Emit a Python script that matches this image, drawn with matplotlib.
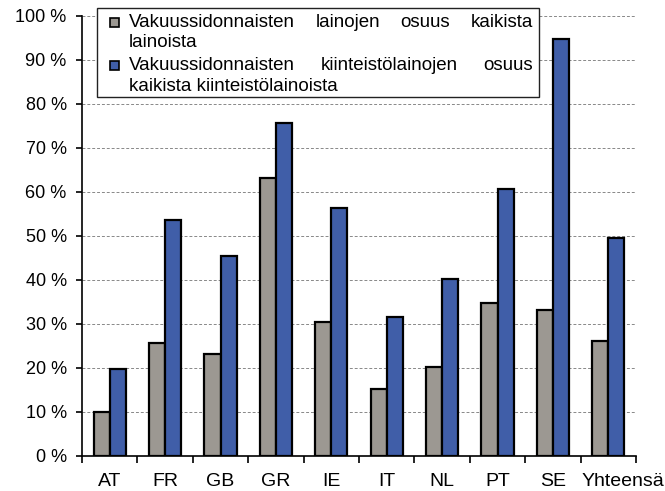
import matplotlib
matplotlib.use("Agg")
import matplotlib.pyplot as plt
import matplotlib.transforms as mtransforms
import numpy as np
from matplotlib.patches import Rectangle

categories = ["AT", "FR", "GB", "GR", "IE", "IT", "NL", "PT", "SE", "Yhteensä"]
loans_share = [10.0, 25.7, 23.2, 63.1, 30.4, 15.2, 20.1, 34.7, 33.2, 26.1]
real_estate_share = [19.8, 53.5, 45.4, 75.6, 56.3, 31.5, 40.2, 60.6, 94.8, 49.5]
yticks = [0, 10, 20, 30, 40, 50, 60, 70, 80, 90, 100]
ytick_labels = [f"{v} %" for v in yticks]
legend_lines = [
    ["Vakuussidonnaisten lainojen osuus kaikista", "lainoista"],
    ["Vakuussidonnaisten kiinteistölainojen osuus", "kaikista kiinteistölainoista"],
]

plt.rcParams['font.family'] = ['Liberation Sans', 'DejaVu Sans']
W, H = 665, 491
fig = plt.figure(figsize=(W / 100, H / 100), dpi=100)
ax = fig.add_axes([82 / W, 1 - 456 / H, (636 - 82) / W, (456 - 15.7) / H])

gray = "#9c9892"
blue = "#405ea8"
x = np.arange(len(categories))
bw = 0.29
ax.bar(x - bw / 2, loans_share, bw, color=gray, edgecolor="black", linewidth=1.6, zorder=3)
ax.bar(x + bw / 2, real_estate_share, bw, color=blue, edgecolor="black", linewidth=1.6, zorder=3)

ax.set_xlim(-0.5, len(categories) - 0.5)
ax.set_ylim(0, 100)
ax.set_yticks(yticks)
ax.set_yticklabels(ytick_labels, fontsize=13)
ax.set_xticks(x)
ax.set_xticklabels(categories, fontsize=14)
ax.tick_params(axis="x", length=0, pad=12)
ax.set_xticks(np.arange(len(categories) + 1) - 0.5, minor=True)
ax.tick_params(axis="x", which="minor", length=5, width=1.2, direction="out")
ax.tick_params(axis="y", length=4, width=1.2, direction="out", pad=7)
for s in ["top", "right"]:
    ax.spines[s].set_visible(False)
for s in ["left", "bottom"]:
    ax.spines[s].set_linewidth(1.2)
for v in yticks[1:]:
    ax.axhline(v, color="#888888", linestyle=(0, (3, 2)), linewidth=0.7, zorder=1)

# last (long) label starts at the left category boundary, as in the original
last = ax.get_xticklabels()[-1]
last.set_ha("left")
last.set_transform(last.get_transform() + mtransforms.ScaledTranslation(-27 / 100, 0, fig.dpi_scale_trans))

# Custom legend box with justified text (pixel coordinates)
def px(xp, yp):
    return fig.transFigure.inverted().transform((xp, H - yp))

box_l, box_t, box_r, box_b = 97, 8, 539, 97
(bx0, by0) = px(box_l, box_b)
(bx1, by1) = px(box_r, box_t)
fig.patches.append(Rectangle((bx0, by0), bx1 - bx0, by1 - by0, transform=fig.transFigure,
                             facecolor="white", edgecolor="#222222", linewidth=1.0, zorder=10))
renderer = fig.canvas.get_renderer()
text_left, text_right = 129, 533
line_y = [[27, 47], [70, 91]]
colors = [gray, blue]
fs = 13.5
for i, lines in enumerate(legend_lines):
    mx0, my0 = px(110, line_y[i][0])
    mx1, my1 = px(119, line_y[i][0] - 9)
    fig.patches.append(Rectangle((mx0, my0), mx1 - mx0, my1 - my0, transform=fig.transFigure,
                                 facecolor=colors[i], edgecolor="black", linewidth=1.2, zorder=11))
    for j, line in enumerate(lines):
        yy = line_y[i][j]
        if j == 0:
            words = line.split()
            texts = []
            widths = []
            for w in words:
                t = fig.text(0, 0, w, fontsize=fs, va="baseline", ha="left", zorder=12)
                bb = t.get_window_extent(renderer)
                texts.append(t)
                widths.append(bb.width)
            gap = (text_right - text_left - sum(widths)) / (len(words) - 1)
            cur = text_left
            for t, wdt in zip(texts, widths):
                t.set_position(px(cur, yy))
                cur += wdt + gap
        else:
            fig.text(*px(text_left, yy), line, fontsize=fs, va="baseline", ha="left", zorder=12)

fig.savefig("out.png", dpi=100)
